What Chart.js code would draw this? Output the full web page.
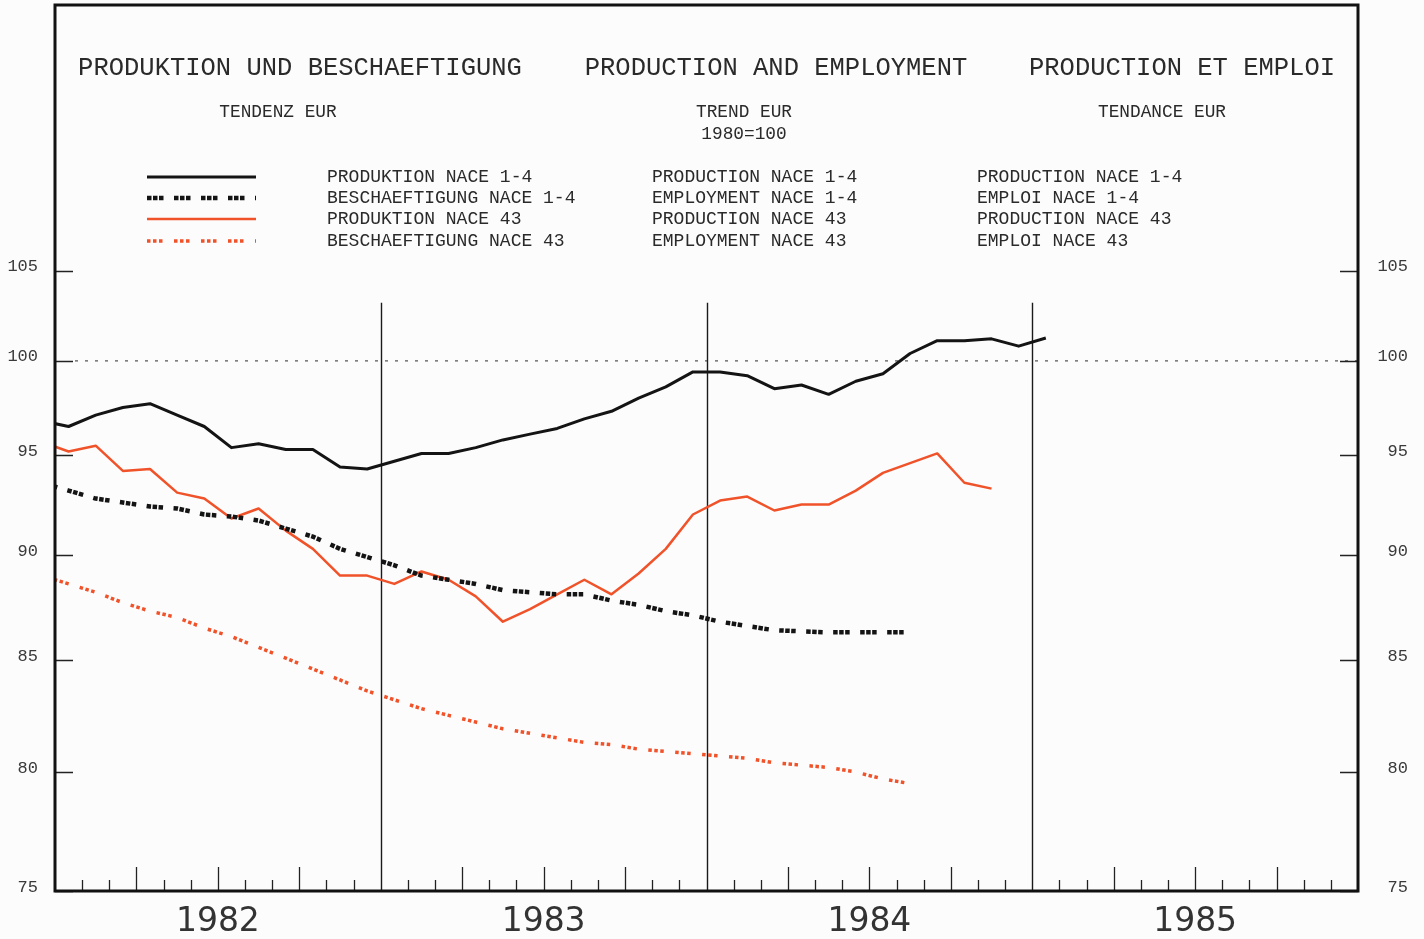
<!DOCTYPE html>
<html>
<head>
<meta charset="utf-8">
<title>Produktion und Beschaeftigung</title>
<script src="https://cdn.jsdelivr.net/npm/chart.js@4.4.1/dist/chart.umd.min.js"></script>
<style>
  html, body { margin: 0; padding: 0; background: #fcfcfc; }
  canvas { display: block; }
</style>
</head>
<body>
<canvas id="prodChart" width="1424" height="939"></canvas>
<script>
// month index 0 = January 1982; every value sits at mid-month
const firstMonth = -1; // all series start in December 1981

const years = ['1982', '1983', '1984', '1985'];
const yTicks = [75, 80, 85, 90, 95, 100, 105];

// 1980 = 100
const prodNace14 = [96.8, 96.5, 97.1, 97.5, 97.7, 97.1, 96.5, 95.4, 95.6, 95.3, 95.3, 94.4, 94.3,
  94.7, 95.1, 95.1, 95.4, 95.8, 96.1, 96.4, 96.9, 97.3, 98.0, 98.6, 99.4,
  99.4, 99.2, 98.5, 98.7, 98.2, 98.9, 99.3, 100.4, 101.1, 101.1, 101.2, 100.8,
  101.25];
const emplNace14 = [93.6, 93.2, 92.8, 92.6, 92.4, 92.3, 92.0, 91.9, 91.7, 91.3, 90.9, 90.3, 89.9,
  89.5, 89.0, 88.8, 88.6, 88.3, 88.2, 88.1, 88.1, 87.8, 87.6, 87.3, 87.1,
  86.8, 86.6, 86.4, 86.35, 86.3, 86.3, 86.3, 86.3];
const prodNace43 = [95.7, 95.2, 95.5, 94.2, 94.3, 93.1, 92.8, 91.8, 92.3, 91.2, 90.3, 89.0, 89.0,
  88.6, 89.2, 88.8, 88.0, 86.8, 87.4, 88.1, 88.8, 88.1, 89.1, 90.3, 92.0,
  92.7, 92.9, 92.2, 92.5, 92.5, 93.2, 94.1, 94.6, 95.1, 93.6, 93.3];
const emplNace43 = [89.0, 88.6, 88.2, 87.7, 87.3, 87.0, 86.5, 86.1, 85.6, 85.1, 84.6, 84.1, 83.6,
  83.2, 82.8, 82.5, 82.2, 81.9, 81.7, 81.5, 81.3, 81.2, 81.0, 80.9, 80.8,
  80.7, 80.6, 80.4, 80.3, 80.2, 80.0, 79.7, 79.5];

const titles = ['PRODUKTION UND BESCHAEFTIGUNG', 'PRODUCTION AND EMPLOYMENT', 'PRODUCTION ET EMPLOI'];
const subtitles = ['TENDENZ EUR', 'TREND EUR', 'TENDANCE EUR'];
const baseNote = '1980=100';
const legendDe = ['PRODUKTION NACE 1-4', 'BESCHAEFTIGUNG NACE 1-4', 'PRODUKTION NACE 43', 'BESCHAEFTIGUNG NACE 43'];
const legendEn = ['PRODUCTION NACE 1-4', 'EMPLOYMENT NACE 1-4', 'PRODUCTION NACE 43', 'EMPLOYMENT NACE 43'];
const legendFr = ['PRODUCTION NACE 1-4', 'EMPLOI NACE 1-4', 'PRODUCTION NACE 43', 'EMPLOI NACE 43'];

const BLACK = '#141414';
const ORANGE = '#f0522a';
const TEXT = '#2a2a2a';
const MONO = '"Liberation Mono", "DejaVu Sans Mono", monospace';

function toPoints(values) {
  return values.map((v, i) => ({ x: firstMonth + i + 0.5, y: v }));
}

const yearCenters = years.map((_, i) => i * 12 + 6);

// frame, inward ticks, year separators and the 100 reference line
const frameDecor = {
  id: 'frameDecor',
  beforeDatasetsDraw(chart) {
    const { ctx, chartArea: a, scales: { x, y } } = chart;
    ctx.save();
    ctx.strokeStyle = '#555';
    ctx.lineWidth = 1.2;
    ctx.setLineDash([3, 7]);
    const y100 = y.getPixelForValue(100);
    ctx.beginPath();
    ctx.moveTo(a.left + 20, y100);
    ctx.lineTo(a.right, y100);
    ctx.stroke();
    ctx.setLineDash([]);

    // year separators only reach up to below the legend block
    const sepTop = a.top + (a.bottom - a.top) * 0.336;
    ctx.strokeStyle = '#1a1a1a';
    ctx.lineWidth = 1.4;
    for (let m = 12; m < 48; m += 12) {
      const px = Math.round(x.getPixelForValue(m)) + 0.5;
      ctx.beginPath();
      ctx.moveTo(px, sepTop);
      ctx.lineTo(px, a.bottom);
      ctx.stroke();
    }

    // month ticks, longer at quarters
    ctx.lineWidth = 1.3;
    ctx.strokeStyle = '#222';
    for (let m = 1; m < 48; m++) {
      if (m % 12 === 0) continue;
      const px = Math.round(x.getPixelForValue(m)) + 0.5;
      const len = m % 3 === 0 ? 24 : 11;
      ctx.beginPath();
      ctx.moveTo(px, a.bottom);
      ctx.lineTo(px, a.bottom - len);
      ctx.stroke();
    }

    // value ticks on both sides
    for (const v of yTicks) {
      const py = Math.round(y.getPixelForValue(v)) + 0.5;
      ctx.beginPath();
      ctx.moveTo(a.left, py);
      ctx.lineTo(a.left + 18, py);
      ctx.moveTo(a.right, py);
      ctx.lineTo(a.right - 18, py);
      ctx.stroke();
    }
    ctx.restore();
  },
  afterDatasetsDraw(chart) {
    const { ctx, chartArea: a } = chart;
    ctx.save();
    ctx.strokeStyle = '#111';
    ctx.lineWidth = 3;
    ctx.strokeRect(a.left, a.top, a.right - a.left, a.bottom - a.top);
    ctx.restore();
  }
};

// three-language heading and legend inside the frame
const headerBlock = {
  id: 'headerBlock',
  beforeDatasetsDraw(chart) {
    const { ctx } = chart;
    ctx.save();
    ctx.fillStyle = TEXT;
    ctx.textBaseline = 'middle';
    ctx.textAlign = 'center';

    ctx.font = '25.5px ' + MONO;
    [300, 776, 1182].forEach((cx, i) => ctx.fillText(titles[i], cx, 68));

    ctx.font = '17.8px ' + MONO;
    [278, 744, 1162].forEach((cx, i) => ctx.fillText(subtitles[i], cx, 112));
    ctx.fillText(baseNote, 744, 134);

    ctx.textAlign = 'left';
    ctx.font = '18px ' + MONO;
    const rows = [177, 198, 219, 241];
    chart.data.datasets.forEach((ds, i) => {
      const ry = rows[i];
      ctx.save();
      ctx.strokeStyle = ds.borderColor;
      ctx.lineWidth = ds.borderWidth;
      ctx.setLineDash(ds.borderDash || []);
      ctx.beginPath();
      ctx.moveTo(147, ry);
      ctx.lineTo(256, ry);
      ctx.stroke();
      ctx.restore();
      ctx.fillText(legendDe[i], 327, ry);
      ctx.fillText(legendEn[i], 652, ry);
      ctx.fillText(legendFr[i], 977, ry);
    });
    ctx.restore();
  }
};

const valueAxis = (position) => ({
  type: 'logarithmic',
  position: position,
  min: 75,
  max: 121.3,
  grid: { display: false, drawTicks: false },
  border: { display: false },
  afterBuildTicks: (scale) => { scale.ticks = yTicks.map((v) => ({ value: v })); },
  afterFit: (scale) => {
    scale.width = position === 'left' ? 55 : 50;
    scale.paddingTop = 0;
    scale.paddingBottom = 0;
  },
  ticks: {
    callback: (v) => String(v),
    padding: 17,
    labelOffset: -4,
    crossAlign: position === 'left' ? 'near' : 'far',
    color: '#3a3a3a',
    font: { family: MONO, size: 17 }
  }
});

new Chart(document.getElementById('prodChart'), {
  type: 'line',
  data: {
    datasets: [
      {
        label: legendDe[0],
        data: toPoints(prodNace14),
        borderColor: BLACK,
        borderWidth: 3,
        yAxisID: 'y'
      },
      {
        label: legendDe[1],
        data: toPoints(emplNace14),
        borderColor: BLACK,
        borderWidth: 4.5,
        borderDash: [4.5, 1.5, 4.5, 1.5, 4.5, 10.5],
        borderCapStyle: 'butt',
        yAxisID: 'y'
      },
      {
        label: legendDe[2],
        data: toPoints(prodNace43),
        borderColor: ORANGE,
        borderWidth: 2.5,
        yAxisID: 'y'
      },
      {
        label: legendDe[3],
        data: toPoints(emplNace43),
        borderColor: ORANGE,
        borderWidth: 3.5,
        borderDash: [3.5, 2.5, 3.5, 2.5, 3.5, 11.5],
        borderDashOffset: 14,
        borderCapStyle: 'butt',
        yAxisID: 'y'
      }
    ]
  },
  options: {
    responsive: false,
    animation: false,
    events: [],
    layout: { padding: { top: 5, right: 16, left: 0, bottom: 0 } },
    elements: {
      point: { radius: 0 },
      line: { tension: 0, borderJoinStyle: 'round' }
    },
    datasets: { line: { clip: 0 } },
    scales: {
      x: {
        type: 'linear',
        min: 0,
        max: 48,
        grid: { display: false, drawTicks: false },
        border: { display: false },
        afterBuildTicks: (scale) => { scale.ticks = yearCenters.map((v) => ({ value: v })); },
        afterFit: (scale) => { scale.height = 48; },
        ticks: {
          callback: (v) => years[yearCenters.indexOf(v)],
          autoSkip: false,
          maxRotation: 0,
          padding: 12,
          color: '#333',
          font: { family: '"DejaVu Sans", sans-serif', size: 33 }
        }
      },
      y: valueAxis('left'),
      y2: valueAxis('right')
    },
    plugins: {
      legend: { display: false },
      tooltip: { enabled: false }
    }
  },
  plugins: [frameDecor, headerBlock]
});
</script>
</body>
</html>
